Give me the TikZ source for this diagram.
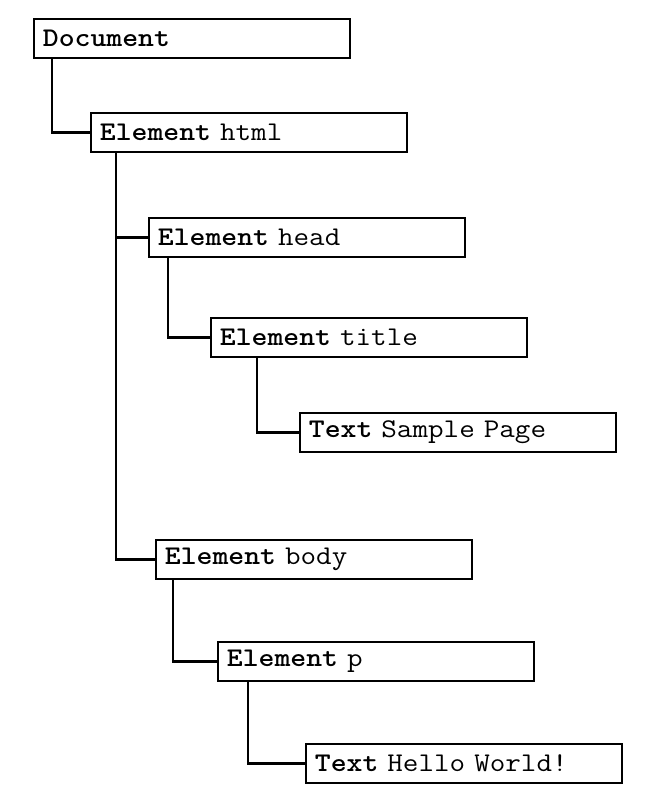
\documentclass[tikz,border=0pt]{standalone}
\usepackage{fontspec}
\setmonofont[FakeStretch=1.12, BoldFont=LMMonoLt10-Bold, BoldFeatures={FakeStretch=1.12}]{Latin Modern Mono}
\begin{document}
\begin{tikzpicture}[x=1pt,y=-1pt,
  box/.style={draw, line width=1.8pt, rectangle, anchor=north west,
    minimum width=316pt, minimum height=39pt, inner xsep=9pt, inner ysep=0pt,
    text width=298pt, align=left, font=\ttfamily\fontsize{27}{30}\selectfont},
  link/.style={line width=2.4pt}]
\useasboundingbox (0,0) rectangle (646,798);
\node[box] (doc) at (33,18) {\textbf{Document}};
\node[box] (html) at (90,112) {\textbf{Element} html};
\node[box] (head) at (148,217) {\textbf{Element} head};
\node[box] (title) at (210,317) {\textbf{Element} title};
\node[box] (sample) at (299,412) {\textbf{Text} Sample Page};
\node[box] (body) at (155,539) {\textbf{Element} body};
\node[box] (p) at (217,641) {\textbf{Element} p};
\node[box] (hello) at (305,743) {\textbf{Text} Hello World!};
\draw[link] ([xshift=19pt]doc.south west) |- (html.west);
\draw[link] ([xshift=26pt]html.south west) |- (head.west);
\draw[link] ([xshift=26pt]html.south west) |- (body.west);
\draw[link] ([xshift=20pt]head.south west) |- (title.west);
\draw[link] ([xshift=47pt]title.south west) |- (sample.west);
\draw[link] ([xshift=18pt]body.south west) |- (p.west);
\draw[link] ([xshift=31pt]p.south west) |- (hello.west);
\end{tikzpicture}
\end{document}
